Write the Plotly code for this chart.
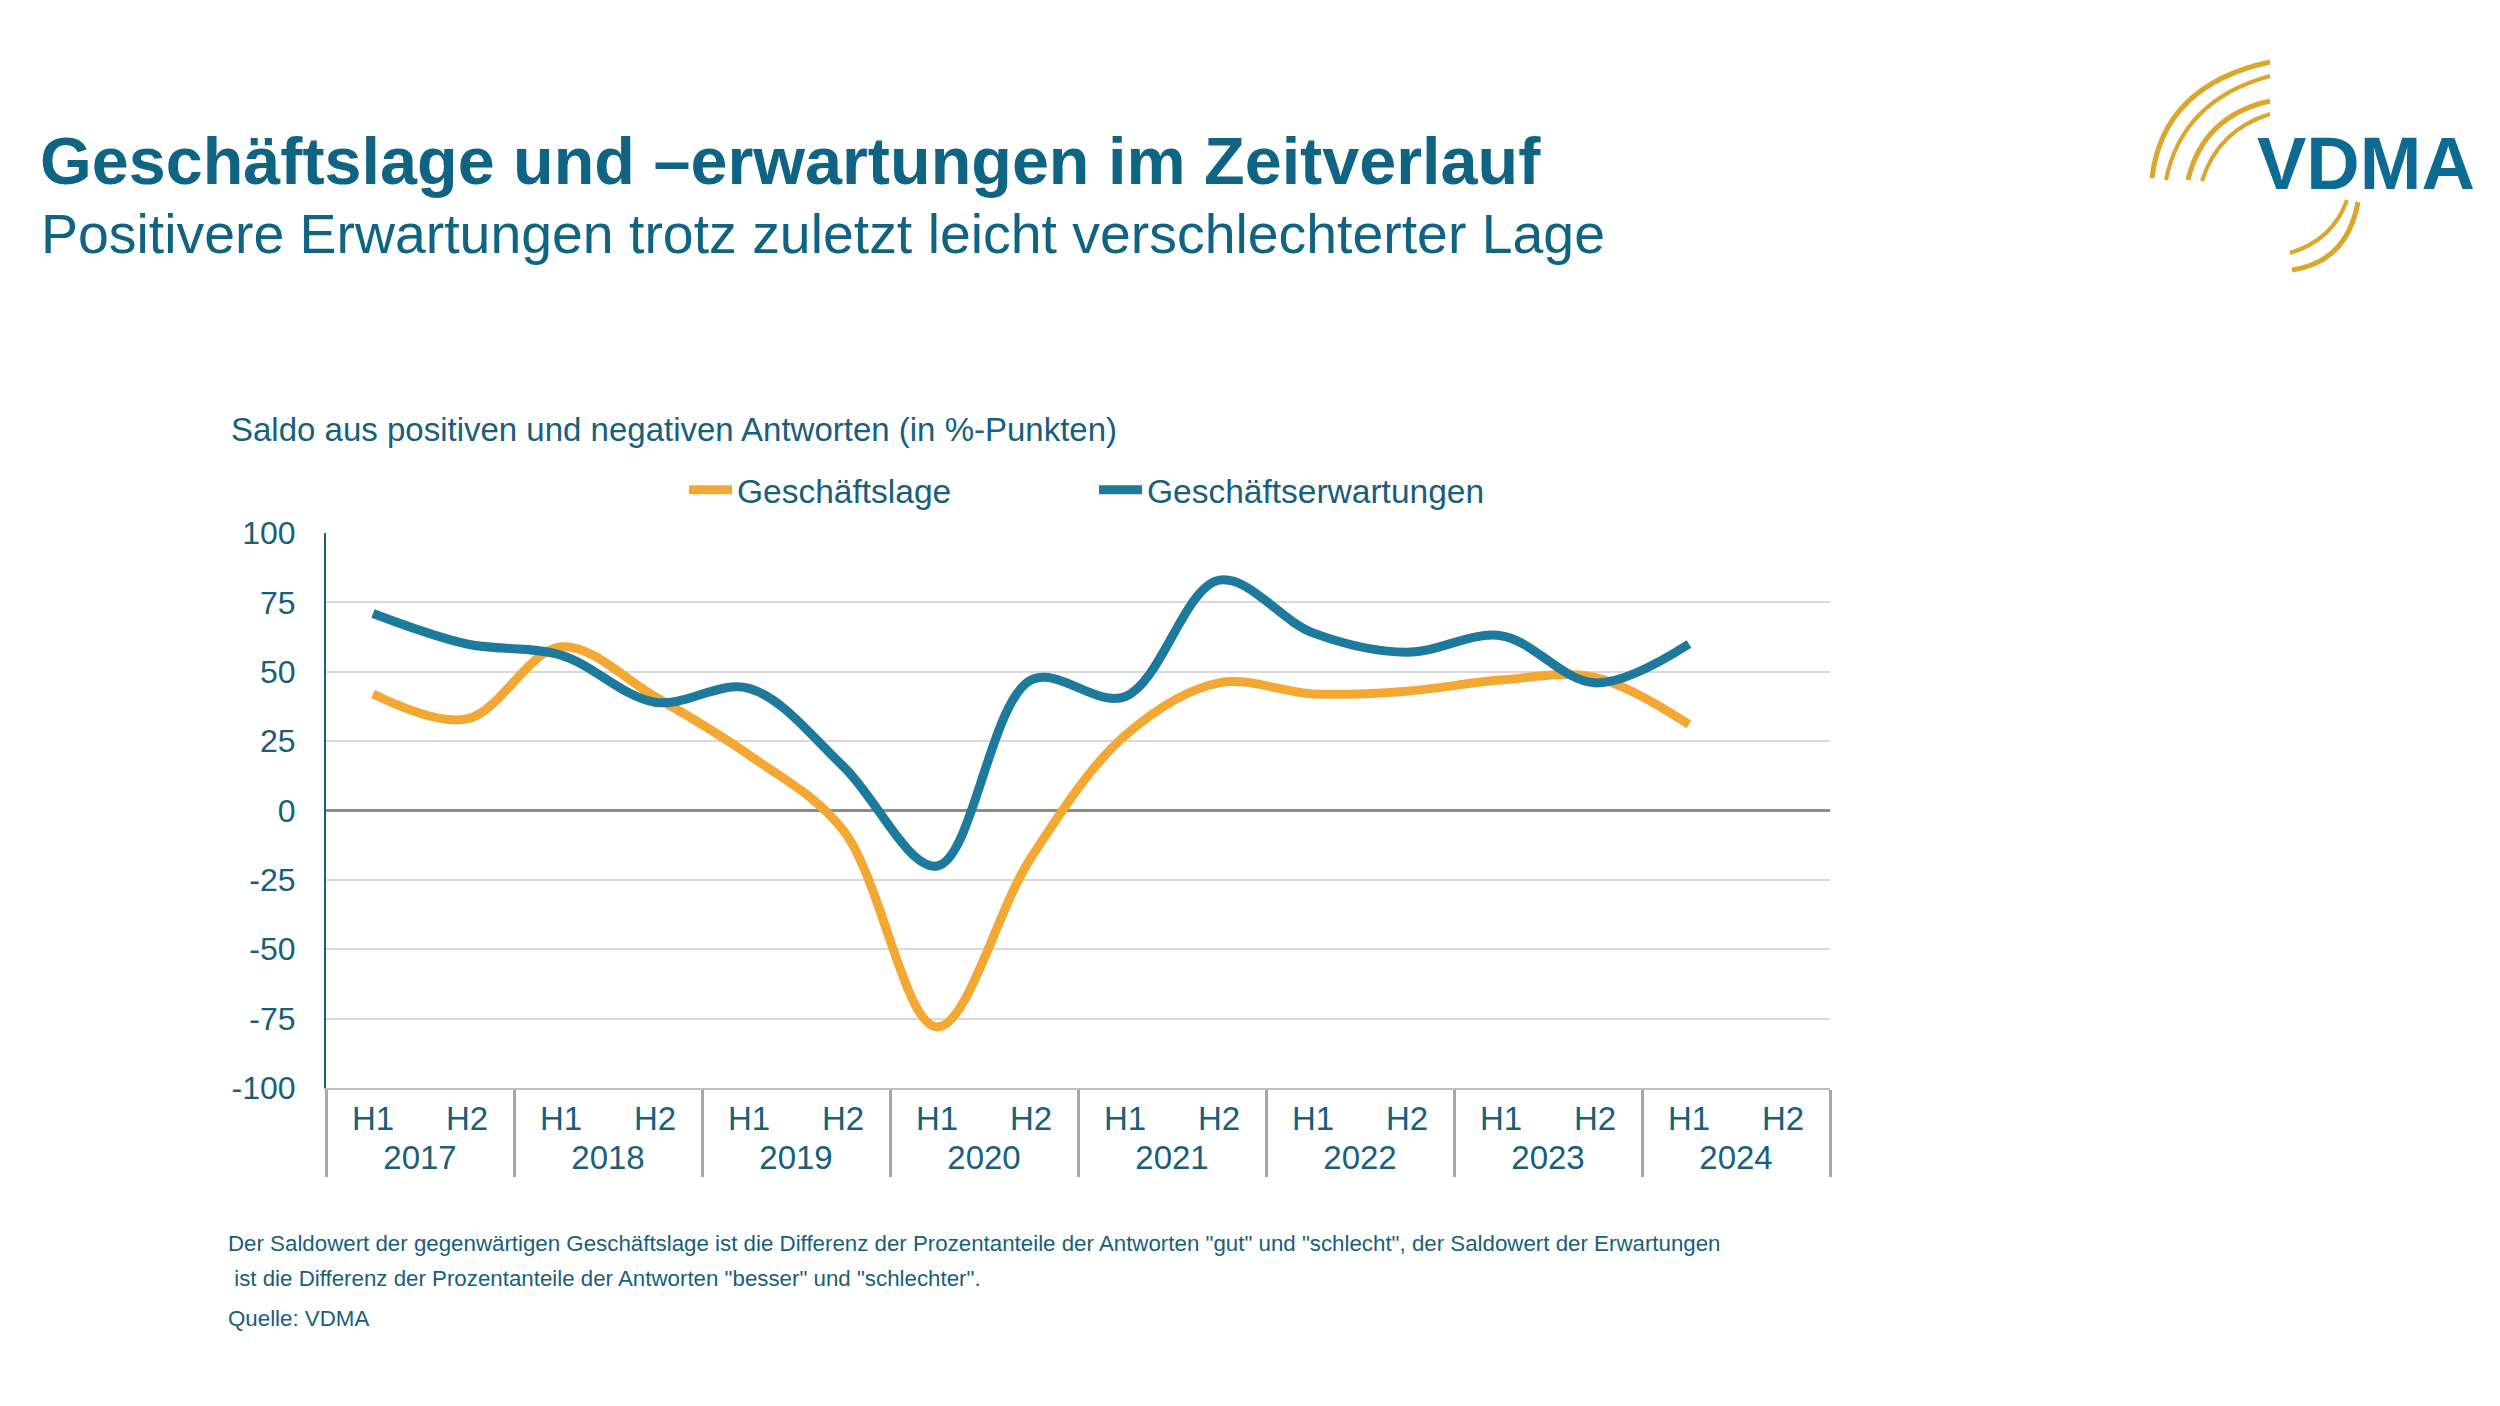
import plotly.graph_objects as go

# Halbjahre und Jahre (multicategory axis)
years = ["2017", "2018", "2019", "2020", "2021", "2022", "2023", "2024"]
halves = ["H1", "H2"]

# Saldo in %-Punkten, 2024 H2 noch offen
lage = [42, 33, 59, 41, 20, -7, -78, -17, 27, 46, 42, 43, 47, 48, 31, None]
erwartungen = [71, 60, 56, 39, 44, 16, -20, 47, 41, 83, 64, 57, 63, 46, 60, None]

y_ticks = [-100, -75, -50, -25, 0, 25, 50, 75, 100]
y_ticktext = ["-100", "-75", "-50", "-25", "0", "25", "50", "75", "100"]

x_year = [y for y in years for h in halves]
x_half = [h for y in years for h in halves]

# page has 8px body margin, so everything is placed 8px up/left
W, H = 2484, 1390
L, R, T, B = 318, 1822, 525, 1080

TEAL = "#0f6483"
TXT = "#17607c"
ORANGE = "#f4a834"
BLUE = "#1d7a9c"
GOLD = "#dca52c"
FONT = "Liberation Sans, Arial, sans-serif"


def px(x):
    return (x - L) / (R - L)


def py(y):
    return (B - y) / (B - T)


fig = go.Figure()
fig.add_trace(go.Scatter(x=[x_year, x_half], y=lage, name="Geschäftslage",
                         mode="lines", line=dict(color=ORANGE, width=9, shape="spline", smoothing=1)))
fig.add_trace(go.Scatter(x=[x_year, x_half], y=erwartungen, name="Geschäftserwartungen",
                         mode="lines", line=dict(color=BLUE, width=9, shape="spline", smoothing=1)))

fig.update_layout(
    width=W, height=H,
    margin=dict(l=L, r=W - R, t=T, b=H - B),
    paper_bgcolor="white", plot_bgcolor="white",
    font=dict(family=FONT, color=TXT, size=32),
    showlegend=True,
    legend=dict(orientation="h", x=px(676), y=py(482), xanchor="left", yanchor="middle",
                font=dict(size=33.5, color=TXT), itemwidth=43,
                entrywidth=352, entrywidthmode="pixels", bgcolor="rgba(0,0,0,0)"),
)

fig.update_yaxes(range=[-100, 100], tickvals=y_ticks, ticktext=y_ticktext,
                 showgrid=True, gridcolor="#d9d9d9", gridwidth=2,
                 zeroline=True, zerolinecolor="#8c8c8c", zerolinewidth=3,
                 showline=True, linecolor=TEAL, linewidth=2, ticks="", ticklabelstandoff=22,
                 tickfont=dict(size=32, color=TXT), fixedrange=True)
fig.update_xaxes(type="multicategory", range=[-0.5, 15.5], showgrid=False,
                 showline=True, linecolor="#bfbfbf", linewidth=2,
                 showdividers=True, dividercolor="#a6a6a6", dividerwidth=3, ticks="",
                 tickfont=dict(size=33, color=TXT), fixedrange=True)

# Texte
texts = [
    ("<b>Geschäftslage und –erwartungen im Zeitverlauf</b>", 30, 153, 66.5, TEAL),
    ("Positivere Erwartungen trotz zuletzt leicht verschlechterter Lage", 31, 226, 55.4, TEAL),
    ("Saldo aus positiven und negativen Antworten (in %-Punkten)", 221, 422, 33, TXT),
    ("Der Saldowert der gegenwärtigen Geschäftslage ist die Differenz der Prozentanteile der Antworten \"gut\" und \"schlecht\", der Saldowert der Erwartungen", 218, 1235, 22.3, TXT),
    (" ist die Differenz der Prozentanteile der Antworten \"besser\" und \"schlechter\".", 218, 1270, 22.3, TXT),
    ("Quelle: VDMA", 218, 1310, 22.3, TXT),
]
for t, x, y, s, c in texts:
    fig.add_annotation(text=t, x=px(x), y=py(y), xref="paper", yref="paper", xanchor="left",
                       yanchor="middle", showarrow=False, font=dict(size=s, color=c, family=FONT))

# Logo
fig.add_annotation(text="<b>VDMA</b>", x=px(2358), y=py(156), xref="paper", yref="paper",
                   xanchor="center", yanchor="middle", showarrow=False,
                   font=dict(size=74, color="#0d6a93", family=FONT))
arcs = [
    ((2144, 170), (2155, 77), (2262, 54), 5),
    ((2158, 172), (2174, 92), (2262, 68), 4),
    ((2180, 172), (2195, 108), (2262, 93), 5),
    ((2194, 173), (2210, 122), (2262, 106), 4),
    ((2282, 245), (2325, 232), (2339, 192), 4),
    ((2284, 262), (2339, 254), (2350, 194), 5),
]
for (x0, y0), (cx, cy), (x1, y1), w in arcs:
    fig.add_shape(type="path", xref="paper", yref="paper",
                  path=f"M {px(x0)},{py(y0)} Q {px(cx)},{py(cy)} {px(x1)},{py(y1)}",
                  line=dict(color=GOLD, width=w))

fig.write_html("out.html")
